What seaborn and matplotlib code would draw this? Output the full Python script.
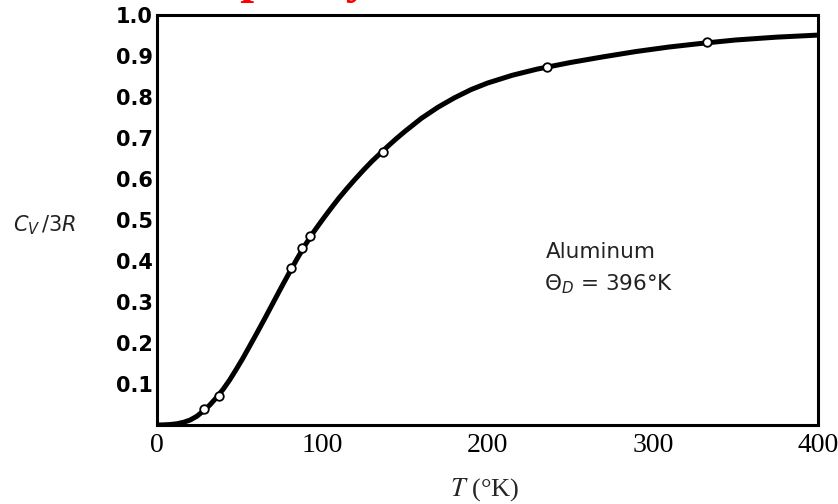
import numpy as np
import pandas as pd
import matplotlib
matplotlib.use("Agg")
import matplotlib.pyplot as plt
import seaborn as sns

# ---- data ----
curve_T = [0, 4, 8, 12, 16, 20, 24, 28, 32, 36, 40, 44, 48, 52, 56, 60, 65, 70, 75, 80,
           85, 90, 95, 100, 105, 110, 115, 120, 125, 130, 135, 140, 145, 150, 160, 170, 180,
           190, 200, 215, 230, 250, 270, 290, 310, 330, 350, 375, 400]
curve_C = [0.0, 0.0003, 0.0012, 0.003, 0.0065, 0.012, 0.021, 0.034, 0.049, 0.067, 0.087,
           0.110, 0.136, 0.163, 0.192, 0.221, 0.258, 0.296, 0.334, 0.371, 0.407, 0.441,
           0.472, 0.500, 0.527, 0.553, 0.577, 0.600, 0.622, 0.643, 0.662, 0.681, 0.699,
           0.716, 0.748, 0.775, 0.798, 0.818, 0.834, 0.853, 0.868, 0.884, 0.898, 0.911,
           0.922, 0.931, 0.939, 0.946, 0.951]

point_T = [28.5, 37.6, 81.0, 88.0, 92.7, 137.0, 236.0, 333.0]
point_C = [0.040, 0.070, 0.383, 0.431, 0.460, 0.666, 0.873, 0.934]

xticks = [0, 100, 200, 300, 400]
yticks = [0.1, 0.2, 0.3, 0.4, 0.5, 0.6, 0.7, 0.8, 0.9, 1.0]

curve = pd.DataFrame({"T": curve_T, "C": curve_C})
points = pd.DataFrame({"T": point_T, "C": point_C})

sns.set_theme(style="white")
plt.rcParams["font.family"] = ["DejaVu Sans"]
plt.rcParams["mathtext.fontset"] = "dejavusans"

fig = plt.figure(figsize=(8.38, 5.04), dpi=100)
ax = fig.add_axes([157 / 838, (504 - 425) / 504, (818 - 157) / 838, (425 - 15) / 504])

sns.lineplot(data=curve, x="T", y="C", ax=ax, color="black", linewidth=3.6,
             estimator=None, sort=False, solid_joinstyle="round", solid_capstyle="round")
sns.scatterplot(data=points, x="T", y="C", ax=ax, s=38, facecolor="white",
                edgecolor="black", linewidth=1.3, zorder=5)

ax.set_xlim(0, 400)
ax.set_ylim(0, 1.0)
ax.set_xticks(xticks)
ax.set_xticklabels([str(t) for t in xticks], fontfamily="Liberation Serif", fontsize=20)
ax.set_yticks(yticks)
ax.set_yticklabels([f"{v:.1f}" for v in yticks], fontweight="bold", fontsize=15)
ax.tick_params(axis="x", direction="in", length=9, width=1.8, pad=6, colors="black")
ax.tick_params(axis="y", direction="in", length=8, width=1.8, pad=3, colors="black")
for sp in ax.spines.values():
    sp.set_visible(True)
    sp.set_color("black")
    sp.set_linewidth(2.2)

ax.set_xlabel("")
ax.set_ylabel("")

fig.text(13 / 838, 1 - 231 / 504, r"$C_V\,/3R$", fontsize=15, color="#222222",
         ha="left", va="baseline")
fig.text(485 / 838, 1 - 496 / 504, r"$T$ (°K)", fontsize=19, math_fontfamily="stix",
         fontfamily="Liberation Serif", ha="center", va="baseline")

ax.text(235, 0.407, "Aluminum", fontsize=15.5, ha="left", va="baseline", color="#222222")
ax.text(234, 0.329, r"$\Theta_D$ = 396°K", fontsize=15.5, ha="left", va="baseline",
        color="#222222")

# clipped red text fragment at the very top of the page
fig.text(193 / 838, 1 + 8 / 504, "capacity", color="red", fontfamily="Liberation Serif",
         fontweight="bold", fontsize=36, ha="left", va="baseline")

fig.savefig("out.png", dpi=100)
